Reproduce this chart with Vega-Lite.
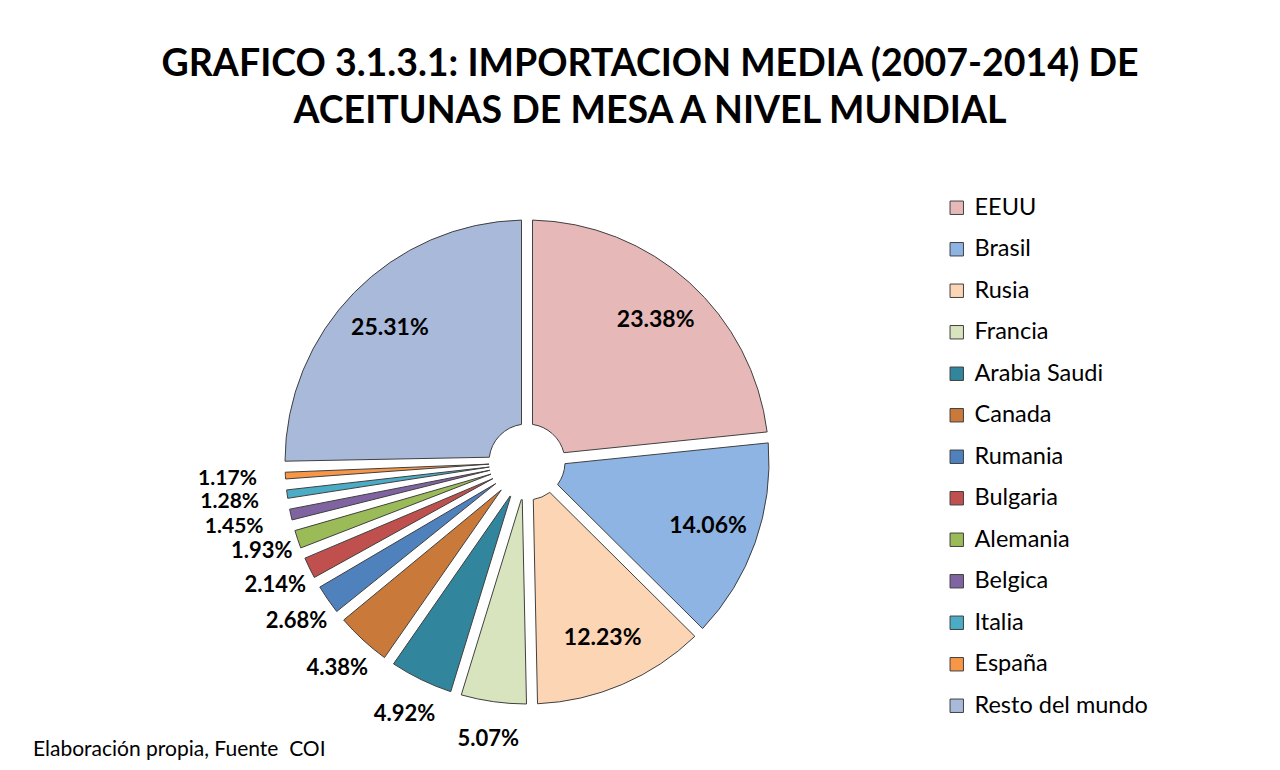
{
  "$schema": "https://vega.github.io/schema/vega-lite/v6.json",
  "autosize": {"type": "none"},
  "padding": {"left": 0, "top": 158, "right": 300, "bottom": 700},
  "background": "white",
  "title": {"text": "Elaboración propia, Fuente\u00a0 COI", "orient": "bottom", "anchor": "start", "frame": "group", "font": "Lato", "fontSize": 21, "fontWeight": "normal", "color": "black", "dx": 33, "offset": -30},
  "bounds": "flush",
  "vconcat": [
    {
      "width": 1054,
      "height": 608,
      "title": {"text": ["GRAFICO 3.1.3.1: IMPORTACION MEDIA (2007-2014) DE", "ACEITUNAS DE MESA A NIVEL MUNDIAL"], "anchor": "middle", "frame": "group", "font": "Lato", "fontSize": 37.5, "fontWeight": "bold", "color": "black", "lineHeight": 47, "dx": 123, "offset": 28},
      "data": {
        "values": [
          {"pais": "EEUU", "valor": 0.2338, "orden": 1},
          {"pais": "Brasil", "valor": 0.1406, "orden": 2},
          {"pais": "Rusia", "valor": 0.1223, "orden": 3},
          {"pais": "Francia", "valor": 0.0507, "orden": 4},
          {"pais": "Arabia Saudi", "valor": 0.0492, "orden": 5},
          {"pais": "Canada", "valor": 0.0438, "orden": 6},
          {"pais": "Rumania", "valor": 0.0268, "orden": 7},
          {"pais": "Bulgaria", "valor": 0.0214, "orden": 8},
          {"pais": "Alemania", "valor": 0.0193, "orden": 9},
          {"pais": "Belgica", "valor": 0.0145, "orden": 10},
          {"pais": "Italia", "valor": 0.0128, "orden": 11},
          {"pais": "España", "valor": 0.0117, "orden": 12},
          {"pais": "Resto del mundo", "valor": 0.2531, "orden": 13}
        ]
      },
      "layer": [
        {
          "mark": {"type": "arc", "radius": 242, "radius2": 38, "padAngle": 0.045, "stroke": "#404040", "strokeWidth": 1},
          "encoding": {
            "theta": {"field": "valor", "type": "quantitative", "stack": true},
            "order": {"field": "orden", "type": "quantitative"},
            "color": {
              "field": "pais", "type": "nominal",
              "scale": {
                "domain": ["EEUU", "Brasil", "Rusia", "Francia", "Arabia Saudi", "Canada", "Rumania", "Bulgaria", "Alemania", "Belgica", "Italia", "España", "Resto del mundo"],
                "range": ["#E6B9B8", "#8EB4E3", "#FCD5B5", "#D7E4BD", "#31859C", "#C9793A", "#4F81BD", "#C0504D", "#9BBB59", "#8064A2", "#4BACC6", "#F79646", "#A9B9D9"]
              },
              "legend": {
                "orient": "none", "legendX": 945, "legendY": 38, "title": null,
                "symbolType": "square", "symbolSize": 180, "symbolStrokeColor": "#404040", "symbolStrokeWidth": 1, "symbolOpacity": 1,
                "labelFont": "Lato", "labelFontSize": 23.5, "labelColor": "black", "labelOffset": 6, "rowPadding": 16.5, "labelLimit": 300
              }
            }
          }
        },
        {
          "mark": {"type": "text", "radius": 192, "font": "Lato", "fontSize": 23, "fontWeight": "bold", "color": "black", "align": "center", "baseline": "middle"},
          "encoding": {
            "theta": {"field": "valor", "type": "quantitative", "stack": true},
            "order": {"field": "orden", "type": "quantitative"},
            "text": {"condition": {"test": "datum.valor >= 0.1", "field": "valor", "type": "quantitative", "format": ".2%"}, "value": ""}
          }
        },
        {
          "mark": {"type": "text", "radius": 280, "font": "Lato", "fontSize": 22, "fontWeight": "bold", "color": "black", "align": "center", "baseline": "middle"},
          "encoding": {
            "theta": {"field": "valor", "type": "quantitative", "stack": true},
            "order": {"field": "orden", "type": "quantitative"},
            "text": {"condition": {"test": "datum.valor < 0.1 && datum.valor >= 0.015", "field": "valor", "type": "quantitative", "format": ".2%"}, "value": ""}
          }
        },
        {
          "mark": {"type": "text", "radius": 300, "font": "Lato", "fontSize": 21, "fontWeight": "bold", "color": "black", "align": "center", "baseline": "middle"},
          "encoding": {
            "theta": {"field": "valor", "type": "quantitative", "stack": true},
            "order": {"field": "orden", "type": "quantitative"},
            "text": {"condition": {"test": "datum.valor < 0.015", "field": "valor", "type": "quantitative", "format": ".2%"}, "value": ""}
          }
        }
      ]
    }
  ],
  "config": {"view": {"stroke": null}}
}
